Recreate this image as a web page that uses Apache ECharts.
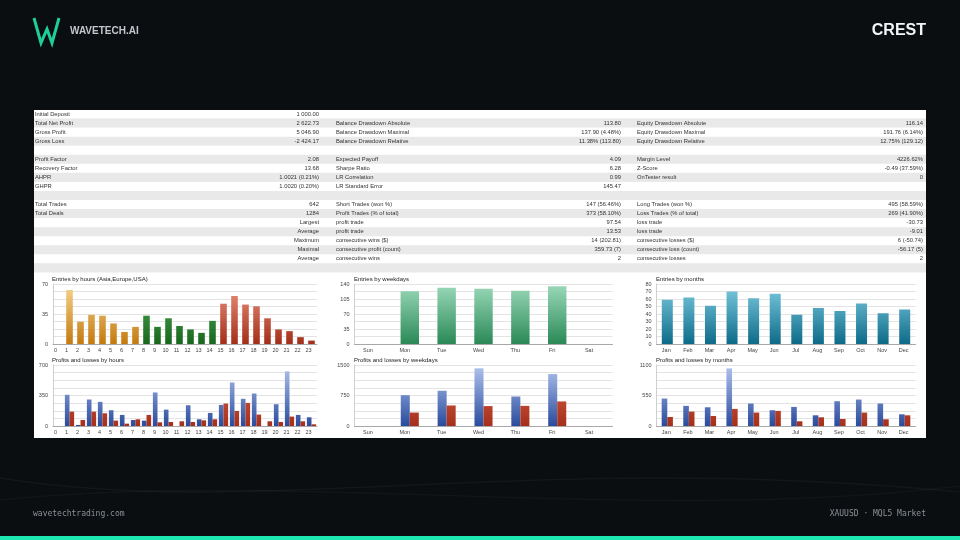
<!DOCTYPE html>
<html>
<head>
<meta charset="utf-8">
<title>XAUUSD report</title>
<script src="https://cdn.jsdelivr.net/npm/echarts@6/dist/echarts.min.js"></script>
<style>
  html, body { margin: 0; padding: 0; background: #0b0e11; }
  #report { width: 960px; height: 540px; }
</style>
</head>
<body>
<div id="report"></div>
<script>
// categories
const HOURS = ['0', '1', '2', '3', '4', '5', '6', '7', '8', '9', '10', '11', '12', '13', '14', '15', '16', '17', '18', '19', '20', '21', '22', '23'];
const WEEKDAYS = ['Sun', 'Mon', 'Tue', 'Wed', 'Thu', 'Fri', 'Sat'];
const MONTHS = ['Jan', 'Feb', 'Mar', 'Apr', 'May', 'Jun', 'Jul', 'Aug', 'Sep', 'Oct', 'Nov', 'Dec'];

// entries
const entriesByHour = [0, 63, 26, 34, 33, 24, 14, 20, 33, 20, 30, 21, 17, 13, 27, 47, 56, 46, 44, 30, 17, 15, 8, 4];
const entriesByWeekday = [0, 123, 131, 129, 124, 135, 0];
const entriesByMonth = [59, 62, 51, 70, 61, 67, 39, 48, 44, 54, 41, 46];

// profits / losses
const profitByHour = [0, 358, 12, 304, 277, 181, 127, 69, 62, 385, 188, 0, 238, 77, 150, 242, 500, 312, 373, 0, 250, 627, 127, 100];
const lossByHour = [0, 165, 69, 165, 146, 62, 27, 77, 127, 42, 46, 54, 46, 65, 77, 258, 173, 265, 131, 54, 46, 108, 54, 19];
const profitByWeekday = [0, 758, 866, 1418, 725, 1278, 0];
const lossByWeekday = [0, 330, 505, 490, 495, 604, 0];
const profitByMonth = [495, 363, 338, 1039, 405, 284, 344, 193, 447, 477, 405, 211];
const lossByMonth = [163, 260, 181, 308, 242, 272, 85, 157, 127, 242, 121, 193];

// report table
const col1Labels = ['Initial Deposit', 'Total Net Profit', 'Gross Profit', 'Gross Loss', '', 'Profit Factor', 'Recovery Factor', 'AHPR', 'GHPR', '', 'Total Trades', 'Total Deals', '', '', '', '', ''];
const col1Values = ['1 000.00', '2 622.73', '5 046.90', '-2 424.17', '', '2.08', '13.68', '1.0021 (0.21%)', '1.0020 (0.20%)', '', '642', '1284', 'Largest', 'Average', 'Maximum', 'Maximal', 'Average'];
const col2Labels = ['', 'Balance Drawdown Absolute', 'Balance Drawdown Maximal', 'Balance Drawdown Relative', '', 'Expected Payoff', 'Sharpe Ratio', 'LR Correlation', 'LR Standard Error', '', 'Short Trades (won %)', 'Profit Trades (% of total)', 'profit trade', 'profit trade', 'consecutive wins ($)', 'consecutive profit (count)', 'consecutive wins'];
const col2Values = ['', '113.80', '137.90 (4.48%)', '11.38% (113.80)', '', '4.09', '6.28', '0.99', '145.47', '', '147 (56.46%)', '373 (58.10%)', '97.54', '13.53', '14 (202.81)', '359.73 (7)', '2'];
const col3Labels = ['', 'Equity Drawdown Absolute', 'Equity Drawdown Maximal', 'Equity Drawdown Relative', '', 'Margin Level', 'Z-Score', 'OnTester result', '', '', 'Long Trades (won %)', 'Loss Trades (% of total)', 'loss trade', 'loss trade', 'consecutive losses ($)', 'consecutive loss (count)', 'consecutive losses'];
const col3Values = ['', '116.14', '191.76 (6.14%)', '12.75% (129.12)', '', '4226.62%', '-0.49 (37.59%)', '0', '', '', '495 (58.59%)', '269 (41.90%)', '-30.73', '-9.01', '6 (-50.74)', '-56.17 (5)', '2'];

const FONT = 'Liberation Sans, Arial, sans-serif';
const ROW_TOP = 109.5;
const ROW_H = 9.05;

const chart = echarts.init(document.getElementById('report'));

function grad(top, bottom, y1, y2) {
  return new echarts.graphic.LinearGradient(0, y1, 0, y2, [
    { offset: 0, color: top },
    { offset: 1, color: bottom },
  ], true);
}

function sessionColor(i) {
  if (i < 8) return grad('#f8d590', '#c47a0e', 284, 344);
  if (i < 15) return grad('#58b45c', '#17661d', 284, 344);
  return grad('#ee9480', '#a32e19', 284, 344);
}

function catAxis(gridIndex, data, pad) {
  return {
    type: 'category',
    gridIndex,
    data,
    axisLine: { lineStyle: { color: '#a8a8a8' } },
    axisTick: { length: 3, lineStyle: { color: '#a8a8a8' } },
    axisLabel: { interval: 0, fontSize: 5.5, color: '#444', margin: 3, padding: [0, pad, 0, 0], fontFamily: FONT },
  };
}

function valAxis(gridIndex, max, step, major) {
  return {
    type: 'value',
    gridIndex,
    min: 0,
    max,
    interval: step,
    axisLine: { show: true, lineStyle: { color: '#cfcfcf' } },
    axisTick: { show: false },
    splitLine: { lineStyle: { color: '#dcdcdc', width: 0.8 } },
    axisLabel: {
      fontSize: 5.5,
      color: '#444',
      margin: 5,
      fontFamily: FONT,
      formatter: (v) => (Math.abs(v / major - Math.round(v / major)) < 1e-6 ? String(v) : ''),
    },
  };
}

function txt(text, x, y, font, fill, align) {
  return {
    type: 'text',
    x,
    y,
    style: { text, font, fill, textAlign: align || 'left', textVerticalAlign: 'middle', align: align || 'left', verticalAlign: 'middle' },
  };
}

// background, panel, table
const graphics = [];
graphics.push({ type: 'bezierCurve', shape: { x1: 0, y1: 478, cpx1: 260, cpy1: 520, cpx2: 520, cpy2: 450, x2: 960, y2: 492 }, style: { stroke: 'rgba(255,255,255,0.04)', fill: null, lineWidth: 1.5 } });
graphics.push({ type: 'bezierCurve', shape: { x1: 0, y1: 500, cpx1: 300, cpy1: 470, cpx2: 640, cpy2: 525, x2: 960, y2: 486 }, style: { stroke: 'rgba(255,255,255,0.03)', fill: null, lineWidth: 1.5 } });
graphics.push({ type: 'rect', z: -1, shape: { x: 34, y: 110, width: 892, height: 328 }, style: { fill: '#ffffff' } });
for (let i = 1; i < 18; i += 2) {
  graphics.push({ type: 'rect', z: -1, shape: { x: 34, y: ROW_TOP + ROW_H * i, width: 892, height: ROW_H }, style: { fill: '#e9e9e9' } });
}
const cols = [
  { labels: col1Labels, values: col1Values, lx: 35, vx: 319 },
  { labels: col2Labels, values: col2Values, lx: 336, vx: 621 },
  { labels: col3Labels, values: col3Values, lx: 637, vx: 923 },
];
const tableFont = '5.8px ' + FONT;
cols.forEach((col) => {
  col.labels.forEach((label, i) => {
    const y = ROW_TOP + ROW_H * i + ROW_H / 2;
    if (label) graphics.push(txt(label, col.lx, y, tableFont, '#333'));
    if (col.values[i]) graphics.push(txt(col.values[i], col.vx, y, tableFont, '#333', 'right'));
  });
});

// header / footer
graphics.push({ type: 'polyline', shape: { points: [[34, 18], [41, 43], [47, 29], [52, 43], [59, 18]] }, style: { stroke: '#1fcf98', lineWidth: 3, fill: null, lineJoin: 'miter' } });
graphics.push(txt('WAVETECH.AI', 70, 31.5, 'bold 10px ' + FONT, '#c3c7cc'));
graphics.push(txt('CREST', 926, 31, 'bold 16px ' + FONT, '#f4f5f6', 'right'));
graphics.push(txt('wavetechtrading.com', 33, 514, '8px DejaVu Sans Mono, monospace', '#8b9196'));
graphics.push(txt('XAUUSD · MQL5 Market', 926, 514, '8px DejaVu Sans Mono, monospace', '#8b9196', 'right'));
graphics.push({ type: 'rect', shape: { x: 0, y: 536, width: 960, height: 4 }, style: { fill: '#1de8b2' } });

const titleStyle = { fontSize: 6, fontWeight: 'normal', color: '#222', fontFamily: FONT };
const blue = grad('#b3c6ef', '#2a4b9d', 365, 426);
const red = grad('#df6a50', '#a62f1b', 365, 426);

chart.setOption({
  backgroundColor: '#0b0e11',
  animation: false,
  textStyle: { fontFamily: FONT },
  title: [
    { text: 'Entries by hours (Asia,Europe,USA)', left: 52, top: 276, padding: 0, textStyle: titleStyle },
    { text: 'Entries by weekdays', left: 354, top: 276, padding: 0, textStyle: titleStyle },
    { text: 'Entries by months', left: 656, top: 276, padding: 0, textStyle: titleStyle },
    { text: 'Profits and losses by hours', left: 52, top: 357, padding: 0, textStyle: titleStyle },
    { text: 'Profits and losses by weekdays', left: 354, top: 357, padding: 0, textStyle: titleStyle },
    { text: 'Profits and losses by months', left: 656, top: 357, padding: 0, textStyle: titleStyle },
  ],
  graphic: { elements: graphics },
  grid: [
    { left: 53, top: 284, width: 264, height: 60 },
    { left: 354.5, top: 284, width: 258, height: 60 },
    { left: 656.5, top: 284, width: 259, height: 60 },
    { left: 53, top: 365, width: 264, height: 61 },
    { left: 354.5, top: 365, width: 258, height: 61 },
    { left: 656.5, top: 365, width: 259, height: 61 },
  ],
  xAxis: [
    catAxis(0, HOURS, 6),
    catAxis(1, WEEKDAYS, 10),
    catAxis(2, MONTHS, 2),
    catAxis(3, HOURS, 6),
    catAxis(4, WEEKDAYS, 10),
    catAxis(5, MONTHS, 2),
  ],
  yAxis: [
    valAxis(0, 70, 8.75, 35),
    valAxis(1, 140, 17.5, 35),
    valAxis(2, 80, 10, 10),
    valAxis(3, 700, 87.5, 350),
    valAxis(4, 1500, 187.5, 750),
    valAxis(5, 1100, 137.5, 550),
  ],
  series: [
    {
      type: 'bar', xAxisIndex: 0, yAxisIndex: 0, barWidth: '60%', silent: true,
      data: entriesByHour.map((v, i) => ({ value: v, itemStyle: { color: sessionColor(i) } })),
    },
    {
      type: 'bar', xAxisIndex: 1, yAxisIndex: 1, barWidth: '50%', silent: true,
      itemStyle: { color: grad('#9cdabb', '#2a8956', 284, 344) },
      data: entriesByWeekday,
    },
    {
      type: 'bar', xAxisIndex: 2, yAxisIndex: 2, barWidth: '51%', silent: true,
      itemStyle: { color: grad('#80cde2', '#0d6b88', 284, 344) },
      data: entriesByMonth,
    },
    { type: 'bar', xAxisIndex: 3, yAxisIndex: 3, barWidth: '42%', barGap: '0%', silent: true, itemStyle: { color: blue }, data: profitByHour },
    { type: 'bar', xAxisIndex: 3, yAxisIndex: 3, barWidth: '42%', barGap: '0%', silent: true, itemStyle: { color: red }, data: lossByHour },
    { type: 'bar', xAxisIndex: 4, yAxisIndex: 4, barWidth: '24.5%', barGap: '0%', silent: true, itemStyle: { color: blue }, data: profitByWeekday },
    { type: 'bar', xAxisIndex: 4, yAxisIndex: 4, barWidth: '24.5%', barGap: '0%', silent: true, itemStyle: { color: red }, data: lossByWeekday },
    { type: 'bar', xAxisIndex: 5, yAxisIndex: 5, barWidth: '26%', barGap: '0%', silent: true, itemStyle: { color: blue }, data: profitByMonth },
    { type: 'bar', xAxisIndex: 5, yAxisIndex: 5, barWidth: '26%', barGap: '0%', silent: true, itemStyle: { color: red }, data: lossByMonth },
  ],
});
</script>
</body>
</html>
